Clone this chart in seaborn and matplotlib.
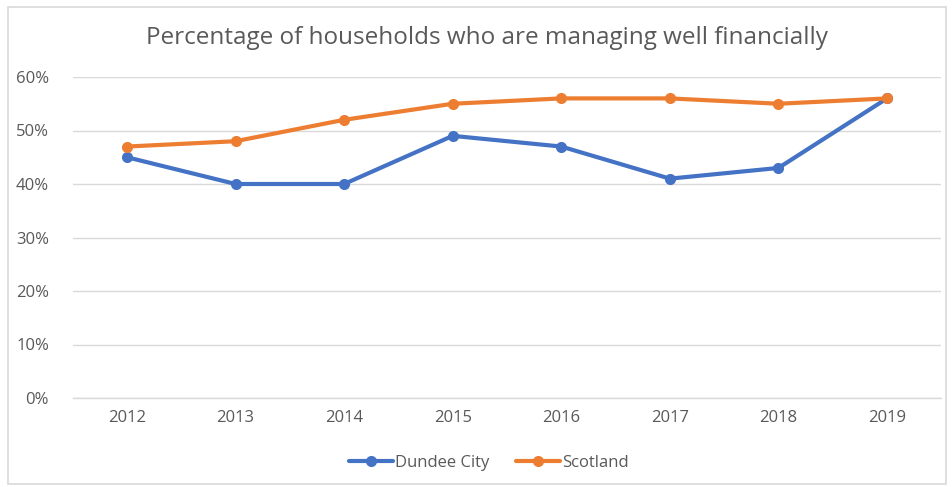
import matplotlib
matplotlib.use("Agg")
import matplotlib.pyplot as plt
import seaborn as sns
import pandas as pd
from matplotlib.patches import Rectangle
from matplotlib.ticker import FuncFormatter
from matplotlib.lines import Line2D

years = ["2012", "2013", "2014", "2015", "2016", "2017", "2018", "2019"]
dundee = [45, 40, 40, 49, 47, 41, 43, 56]
scotland = [47, 48, 52, 55, 56, 56, 55, 56]
series_names = ["Dundee City", "Scotland"]
title = "Percentage of households who are managing well financially"
yticks = [0, 10, 20, 30, 40, 50, 60]

df = pd.DataFrame({
    "year": years * 2,
    "value": dundee + scotland,
    "series": [series_names[0]] * len(years) + [series_names[1]] * len(years),
})
df["x"] = df["year"].map({y: i for i, y in enumerate(years)})

sns.set_theme(style="white")
plt.rcParams["font.family"] = ["Open Sans", "DejaVu Sans"]

fig = plt.figure(figsize=(9.52, 4.87), dpi=100)
ax = fig.add_axes([72.7 / 952, 1 - 398 / 487, (941.3 - 72.7) / 952, (398 - 77) / 487])

palette = {"Dundee City": "#4472C4", "Scotland": "#ED7D31"}
sns.lineplot(data=df, x="x", y="value", hue="series", palette=palette,
             marker="o", markersize=8, linewidth=3, markeredgewidth=0,
             ax=ax, legend=False, zorder=3)

ax.set_xlim(-0.5, len(years) - 0.5)
ax.set_ylim(0, 60)
ax.set_xticks(range(len(years)))
ax.set_xticklabels(years)
ax.set_yticks(yticks)
ax.yaxis.set_major_formatter(FuncFormatter(lambda v, p: f"{int(v)}%"))
ax.grid(axis="y", color="#D9D9D9", linewidth=1)
ax.grid(axis="x", visible=False)
for s in ["top", "right", "left"]:
    ax.spines[s].set_visible(False)
ax.spines["bottom"].set_color("#D9D9D9")
ax.spines["bottom"].set_linewidth(1)
ax.tick_params(axis="both", length=0, labelsize=12, colors="#595959", pad=9)
ax.tick_params(axis="y", pad=17)
ax.set_xlabel("")
ax.set_ylabel("")

fig.text(487 / 952, 1 - 38 / 487, title, ha="center", va="center", fontsize=17.5, color="#595959")

handles = [Line2D([0], [0], color=palette[n], lw=3, marker="o", markersize=8, markeredgewidth=0)
           for n in series_names]
fig.legend(handles, series_names, loc="center", bbox_to_anchor=(489 / 952, 1 - 463 / 487),
           ncol=2, frameon=False, fontsize=12, labelcolor="#595959",
           handlelength=2.6, columnspacing=1.6, handletextpad=0.15)

fig.add_artist(Rectangle((8 / 952, 1 - 484 / 487), (946 - 8) / 952, (484 - 7) / 487,
                         transform=fig.transFigure, fill=False, edgecolor="#D9D9D9", lw=1.2))

fig.savefig("out.png", dpi=100)
